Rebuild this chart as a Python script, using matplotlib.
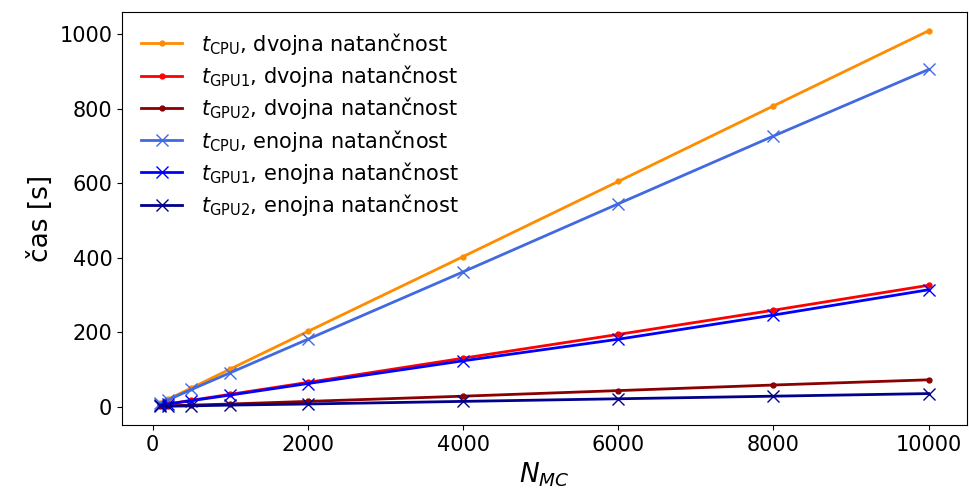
import matplotlib
matplotlib.use("Agg")
import matplotlib.pyplot as plt

# -------------------------------------------------
# Data
# -------------------------------------------------
N_MC = [100, 200, 500, 1000, 2000, 4000, 6000, 8000, 10000]

cpu_double = [10, 20, 50, 101, 202, 403, 605, 808, 1010]
gpu1_double = [4, 7, 17, 33, 65, 130, 194, 259, 326]
gpu2_double = [1, 2, 4, 7, 14, 28, 43, 58, 72]

cpu_single = [9, 18, 46, 91, 181, 362, 545, 727, 906]
gpu1_single = [4, 7, 16, 31, 62, 123, 181, 246, 314]
gpu2_single = [1, 1, 2, 4, 7, 14, 21, 28, 35]

SERIES = [
    (cpu_double, "darkorange", ".", r"$t_{\mathrm{CPU}}$, dvojna natančnost"),
    (gpu1_double, "red", ".", r"$t_{\mathrm{GPU1}}$, dvojna natančnost"),
    (gpu2_double, "darkred", ".", r"$t_{\mathrm{GPU2}}$, dvojna natančnost"),
    (cpu_single, "royalblue", "x", r"$t_{\mathrm{CPU}}$, enojna natančnost"),
    (gpu1_single, "blue", "x", r"$t_{\mathrm{GPU1}}$, enojna natančnost"),
    (gpu2_single, "darkblue", "x", r"$t_{\mathrm{GPU2}}$, enojna natančnost"),
]

# -------------------------------------------------
# Figure
# -------------------------------------------------
DPI = 100
fig = plt.figure(figsize=(970 / DPI, 497 / DPI), dpi=DPI)
ax = fig.add_axes([122 / 970, 1 - 425 / 497, (967 - 122) / 970, (425 - 12) / 497])

for y, color, marker, label in SERIES:
    ms = 7 if marker == "." else 8
    ax.plot(N_MC, y, color=color, marker=marker, markersize=ms, lw=2, label=label)

ax.set_xticks([0, 2000, 4000, 6000, 8000, 10000])
ax.set_yticks([0, 200, 400, 600, 800, 1000])
ax.tick_params(labelsize=15)

ax.set_xlabel(r"$N_{MC}$", fontsize=19)
ax.set_ylabel("čas [s]", fontsize=19)

ax.legend(fontsize=15, frameon=False, loc="upper left",
          handlelength=2.0, labelspacing=0.3, handletextpad=0.9)

fig.savefig("out.png", dpi=DPI)
